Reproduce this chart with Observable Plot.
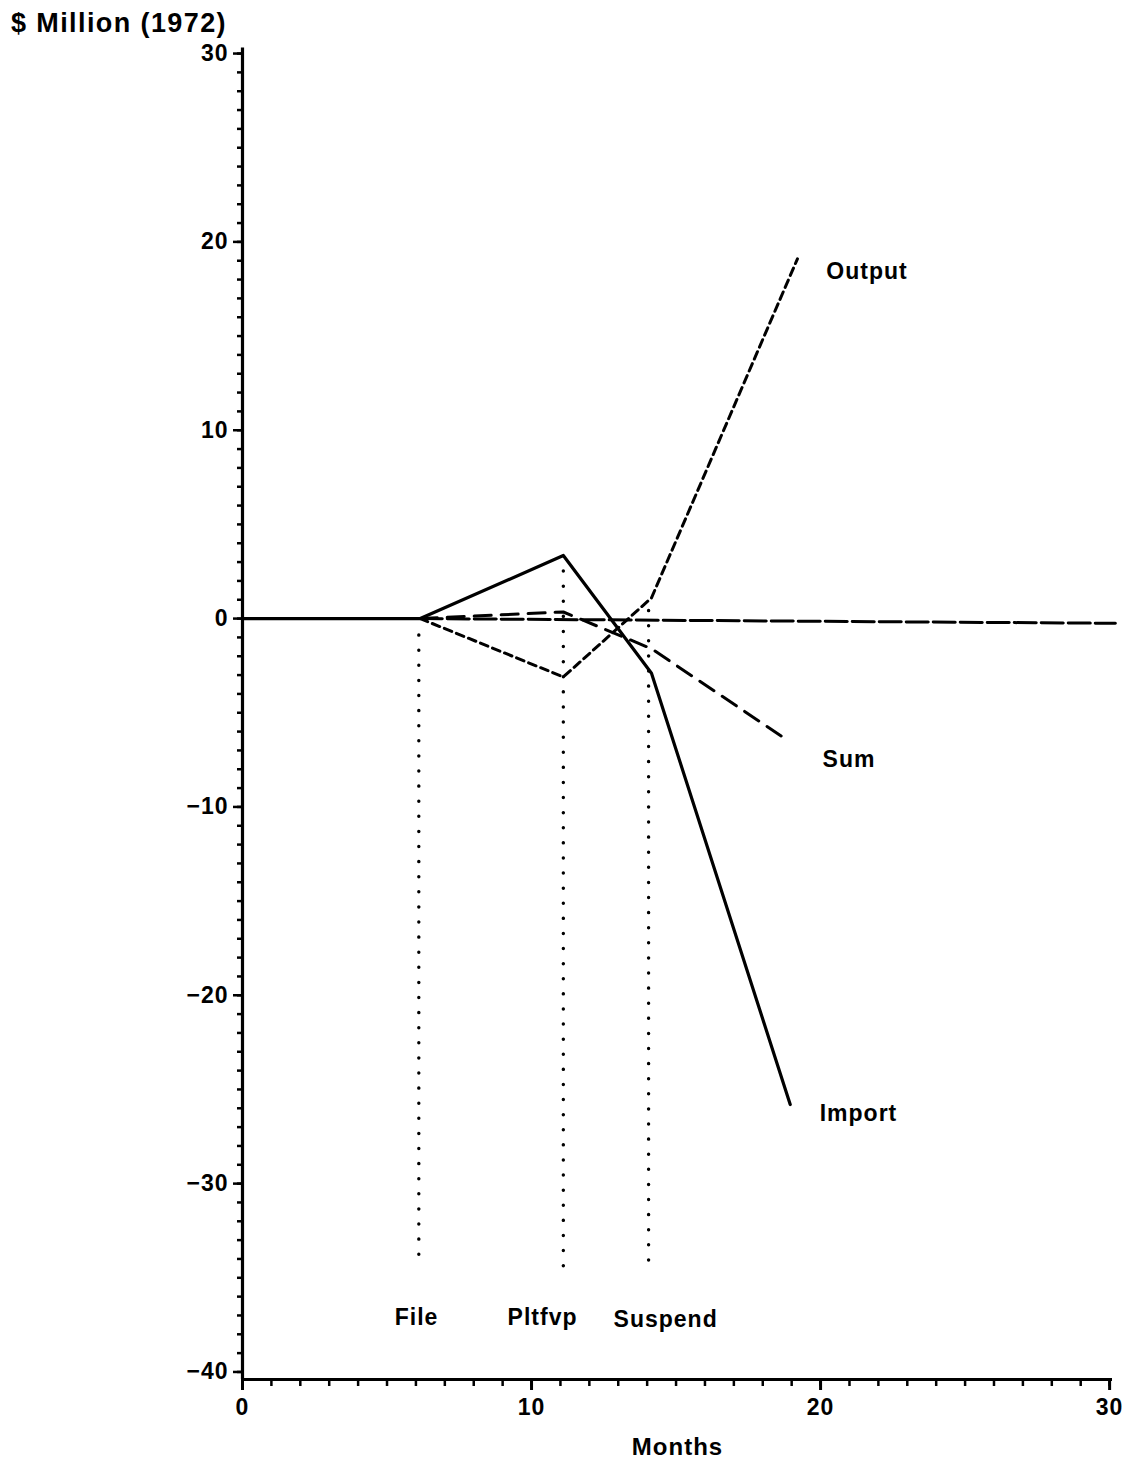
<!DOCTYPE html>
<html><head><meta charset="utf-8">
<script src="https://cdn.jsdelivr.net/npm/d3@7"></script>
<script src="https://cdn.jsdelivr.net/npm/@observablehq/plot@0.6"></script>
<style>
body{margin:0;background:#fff;font-family:"Liberation Sans",Arial,sans-serif;}
#title{height:40px;line-height:46px;font-size:27px;font-weight:bold;letter-spacing:1.4px;padding-left:11px;color:#000;white-space:nowrap;}
#chart svg{overflow:visible;}
#chart svg text{font-weight:bold;letter-spacing:1px;}
</style></head><body>
<div id="title">$ Million (1972)</div>
<div id="chart"></div>
<script>
// Series (months, $ million 1972)
const importX = [0, 6.15, 11.1, 14.15, 18.95];
const importY = [0, 0, 3.35, -2.9, -25.8];
const outputX = [6.15, 11.1, 14.15, 19.2];
const outputY = [0, -3.1, 1.1, 19.1];
const sumX = [6.15, 11.1, 14.15, 18.7];
const sumY = [0, 0.35, -1.6, -6.3];
const baseX = [6.15, 30.2];
const baseY = [0, -0.25];
// Event markers
const eventNames = ["File", "Pltfvp", "Suspend"];
const eventX = [6.1, 11.1, 14.05];
const eventTop = [-0.9, 2.5, 0.4];
const eventBottom = [-34.4, -34.9, -34.7];
const eventLabelX = [6.02, 10.38, 14.64];
const eventLabelY = [-37.1, -37.1, -37.2];
// Series labels
const seriesNames = ["Output", "Sum", "Import"];
const seriesLabelX = [20.2, 20.07, 19.97];
const seriesLabelY = [18.4, -7.5, -26.3];
// Axis ticks
const xMajor = [0, 10, 20, 30];
const yMajor = [-40, -30, -20, -10, 0, 10, 20, 30];

const zip = (xs, ys) => xs.map((x, i) => ({x, y: ys[i]}));
const events = eventNames.map((name, i) => ({name, x: eventX[i], y1: eventTop[i], y2: eventBottom[i], lx: eventLabelX[i], ly: eventLabelY[i]}));
const seriesLabels = seriesNames.map((name, i) => ({name, x: seriesLabelX[i], y: seriesLabelY[i]}));

const fam = "Liberation Sans, Arial, sans-serif";
const chart = Plot.plot({
  width: 1125,
  height: 1428,
  marginLeft: 242,
  marginRight: 13,
  marginTop: 7.4,
  marginBottom: 89,
  style: {fontFamily: fam, color: "#000", background: "#fff"},
  x: {domain: [0, 30.1]},
  y: {domain: [-40.4, 30.3]},
  marks: [
    Plot.axisX(d3.range(0, 31, 1), {tickSize: 7, strokeWidth: 2.5, tickFormat: () => "", label: null}),
    Plot.axisX(xMajor, {tickSize: 11, strokeWidth: 3, tickPadding: 8, fontSize: 23, label: null}),
    Plot.axisY(d3.range(-40, 31, 1), {tickSize: 5, strokeWidth: 2.5, tickFormat: () => "", label: null}),
    Plot.axisY(yMajor, {tickSize: 9, strokeWidth: 2.5, tickPadding: 5, fontSize: 23, label: null}),
    Plot.ruleX([0], {strokeWidth: 3.2}),
    Plot.ruleY([-40.4], {strokeWidth: 3.2}),
    Plot.ruleX(events, {x: "x", y1: "y1", y2: "y2", strokeWidth: 3.4, strokeDasharray: "0.1,15", strokeLinecap: "round"}),
    Plot.line(zip(baseX, baseY), {x: "x", y: "y", strokeWidth: 3, strokeDasharray: "22,5"}),
    Plot.line(zip(sumX, sumY), {x: "x", y: "y", strokeWidth: 3, strokeDasharray: "17,10"}),
    Plot.line(zip(outputX, outputY), {x: "x", y: "y", strokeWidth: 3, strokeDasharray: "8,5"}),
    Plot.line(zip(importX, importY), {x: "x", y: "y", strokeWidth: 3.2}),
    Plot.text(seriesLabels, {x: "x", y: "y", text: "name", textAnchor: "start", fontSize: 23, lineAnchor: "middle"}),
    Plot.text(events, {x: "lx", y: "ly", text: "name", textAnchor: "middle", fontSize: 23, lineAnchor: "middle"}),
    Plot.text(["Months"], {frameAnchor: "bottom", dy: 68, fontSize: 24, lineAnchor: "middle"})
  ]
});
document.getElementById("chart").append(chart);
</script>
</body></html>
